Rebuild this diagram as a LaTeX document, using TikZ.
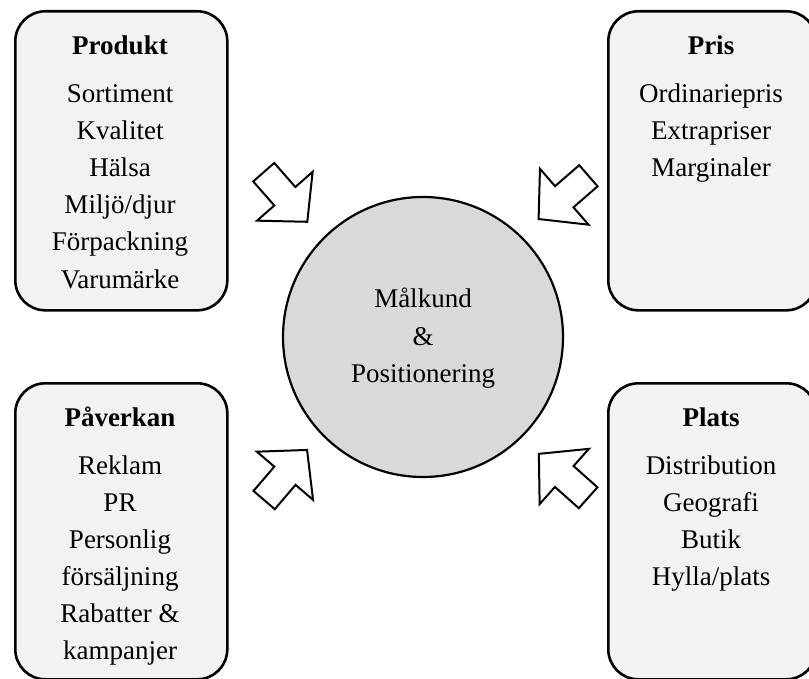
\documentclass[tikz,border=0pt]{standalone}
\usepackage{fontspec}
\setmainfont{Liberation Serif}
\definecolor{boxgray}{HTML}{F2F2F2}
\definecolor{circgray}{HTML}{D9D9D9}
\begin{document}
\begin{tikzpicture}[x=1pt,y=-1pt,
  box/.style={draw=black, line width=2.6pt, fill=boxgray, rounded corners=30pt,
    inner sep=0pt, anchor=north west},
  hub/.style={circle, draw=black, line width=2.2pt, fill=circgray,
    minimum size=280pt, inner sep=0pt},
  arrowline/.style={draw=black, line width=2pt, fill=white, line join=miter},
  title/.style={font=\fontsize{27}{32}\selectfont\bfseries, anchor=base, inner sep=0pt},
  item/.style={font=\fontsize{27}{32}\selectfont, anchor=base, inner sep=0pt},
  blockarrow/.pic={
    \path[arrowline] (-33,-14) -- (-1,-14) -- (-1,-37) -- (33,0)
      -- (-1,37) -- (-1,14) -- (-33,14) -- cycle;
  }]
\path[use as bounding box, clip] (0,0) rectangle (809,679);

% four rounded boxes
\node[box, minimum width=212pt, minimum height=299pt] (produkt) at (14,10) {};
\node[box, minimum width=208pt, minimum height=299pt] (pris) at (607,10) {};
\node[box, minimum width=212pt, minimum height=296pt] (paverkan) at (14,382) {};
\node[box, minimum width=208pt, minimum height=296pt] (plats) at (607,382) {};

% central circle
\node[hub] (malkund) at (423,337) {};
\node[item] (m1) at (423,308) {Målkund};
\node[item] (m2) at (423,345) {\&};
\node[item] (m3) at (423,382) {Positionering};

% block arrows pointing at the circle
\pic[rotate=-48.7] (arrtl) at (285.5,197) {blockarrow};
\pic[rotate=-139] (arrtr) at (563.5,197.4) {blockarrow};
\pic[rotate=49.4] (arrbl) at (285.6,475) {blockarrow};
\pic[rotate=138.3] (arrbr) at (563.5,475.8) {blockarrow};

% box contents
\node[title] (tprod) at (120,55) {Produkt};
\foreach \t [count=\i] in {Sortiment,Kvalitet,Hälsa,Miljö/djur,Förpackning,Varumärke}
  \node[item] (prod\i) at (120,{103+37*(\i-1)}) {\t};

\node[title] (tpris) at (711,55) {Pris};
\foreach \t [count=\i] in {Ordinariepris,Extrapriser,Marginaler}
  \node[item] (pris\i) at (711,{103+37*(\i-1)}) {\t};

\node[title] (tpav) at (120,426) {Påverkan};
\foreach \t [count=\i] in {Reklam,PR,Personlig,försäljning,{Rabatter \&},kampanjer}
  \node[item] (pav\i) at (120,{474+37*(\i-1)}) {\t};

\node[title] (tplats) at (711,426) {Plats};
\foreach \t [count=\i] in {Distribution,Geografi,Butik,Hylla/plats}
  \node[item] (plats\i) at (711,{474+37*(\i-1)}) {\t};
\end{tikzpicture}
\end{document}
